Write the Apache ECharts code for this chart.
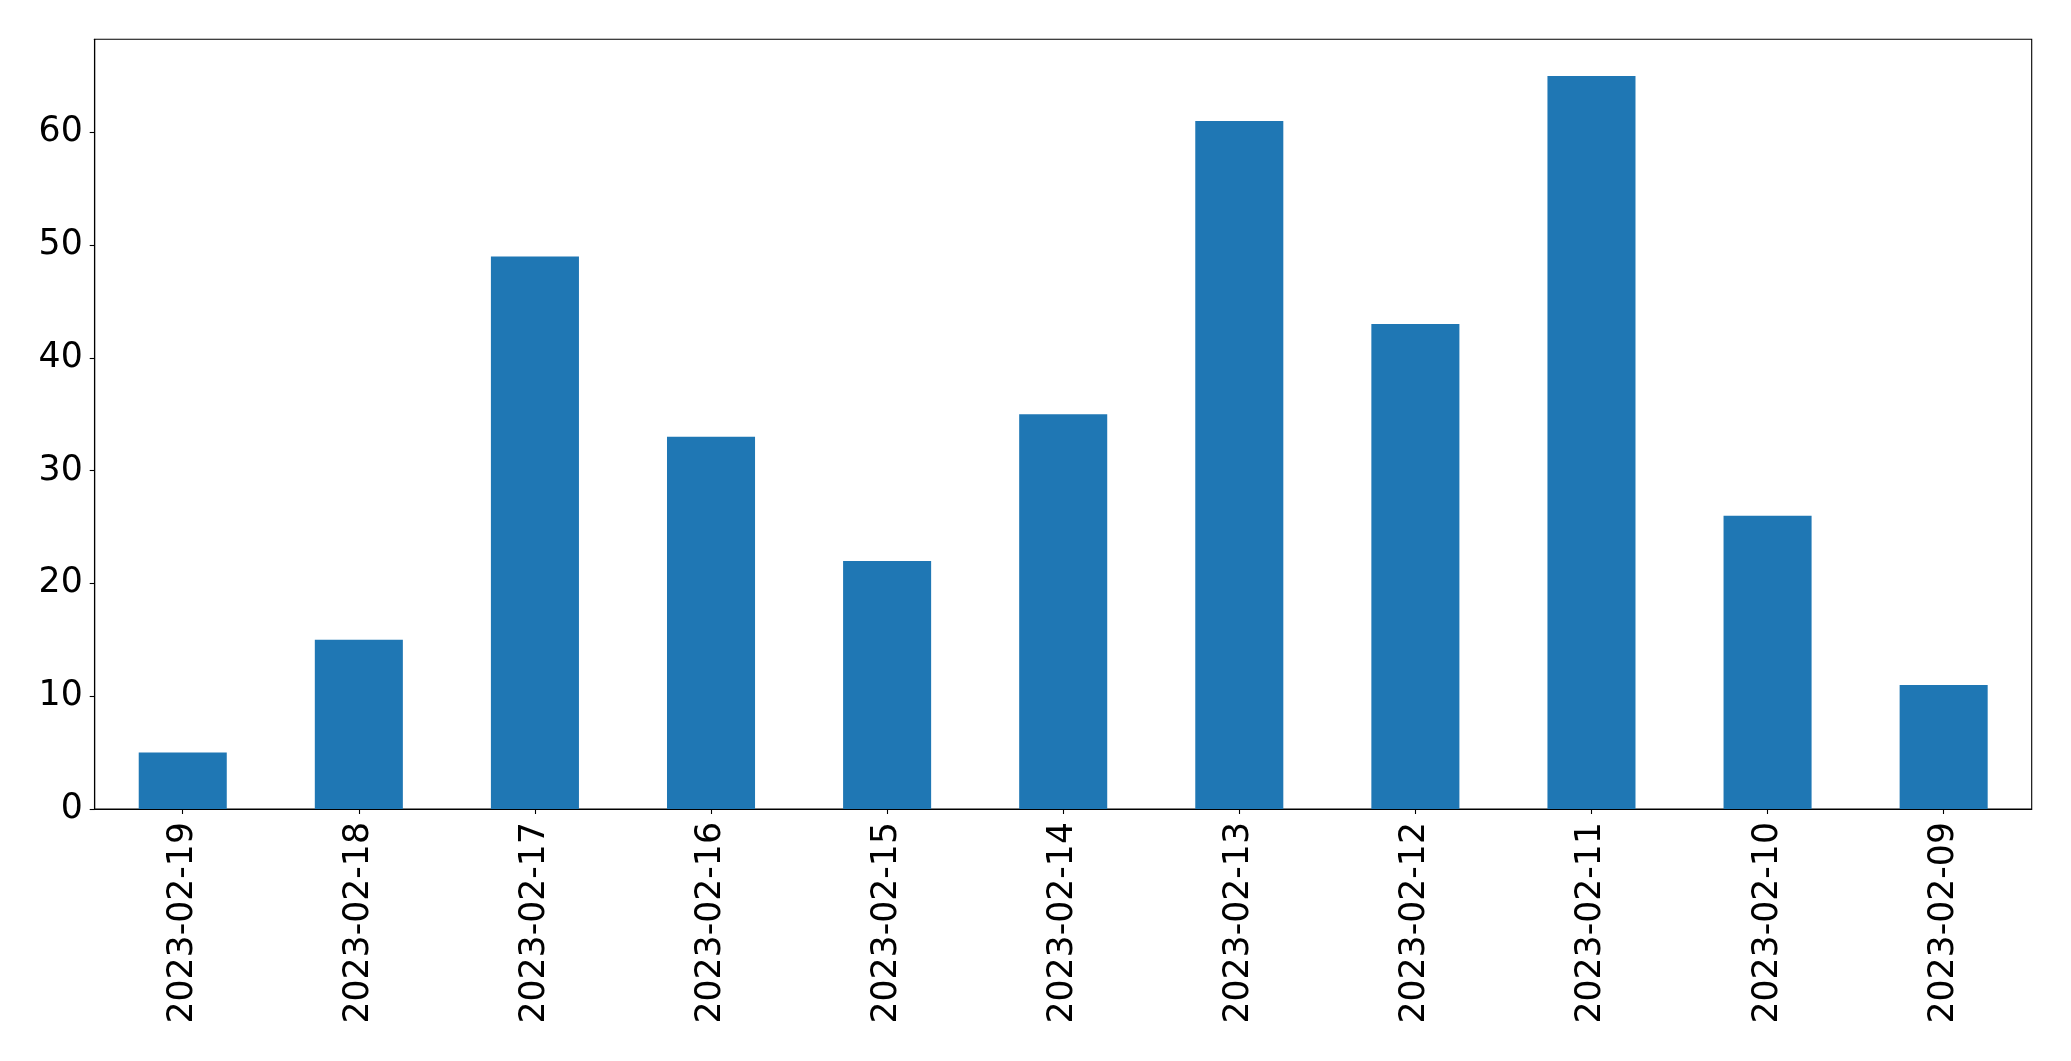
<!DOCTYPE html>
<html>
<head>
<meta charset="utf-8">
<script src="https://cdn.jsdelivr.net/npm/echarts@6/dist/echarts.min.js"></script>
<style>
html,body{margin:0;padding:0;background:#fff;}
#chart{width:2071px;height:1061px;}
</style>
</head>
<body>
<div id="chart"></div>
<script>
const categories = ['2023-02-19','2023-02-18','2023-02-17','2023-02-16','2023-02-15','2023-02-14','2023-02-13','2023-02-12','2023-02-11','2023-02-10','2023-02-09'];
const values = [5, 15, 49, 33, 22, 35, 61, 43, 65, 26, 11];
const yTicks = [0, 10, 20, 30, 40, 50, 60];
const yMax = 68.25;

const chart = echarts.init(document.getElementById('chart'), null, {renderer: 'canvas'});
const font = 'DejaVu Sans';
chart.setOption({
  animation: false,
  backgroundColor: '#ffffff',
  grid: {
    left: 94.7, right: 39.3, top: 39.3, bottom: 252,
    show: true, borderColor: '#000', borderWidth: 1.1, backgroundColor: 'transparent'
  },
  xAxis: {
    type: 'category',
    data: categories,
    boundaryGap: true,
    axisLine: {show: true, lineStyle: {color: '#000', width: 1.1}},
    axisTick: {show: true, alignWithLabel: true, inside: false, length: 5, lineStyle: {color: '#000', width: 1.1}},
    axisLabel: {rotate: 90, margin: 13, color: '#000', fontFamily: font, fontSize: 34.7, interval: 0},
    splitLine: {show: false}
  },
  yAxis: {
    type: 'value',
    min: 0, max: yMax, interval: 10,
    axisLine: {show: true, lineStyle: {color: '#000', width: 1.1}},
    axisTick: {show: true, inside: false, length: 5, customValues: yTicks, lineStyle: {color: '#000', width: 1.1}},
    axisLabel: {margin: 12, color: '#000', fontFamily: font, fontSize: 34.7, customValues: yTicks, padding: [6, 0, 0, 0]},
    splitLine: {show: false}
  },
  series: [{
    type: 'bar',
    data: values,
    barWidth: '50%',
    itemStyle: {color: '#1f77b4'}
  }]
});
</script>
</body>
</html>
